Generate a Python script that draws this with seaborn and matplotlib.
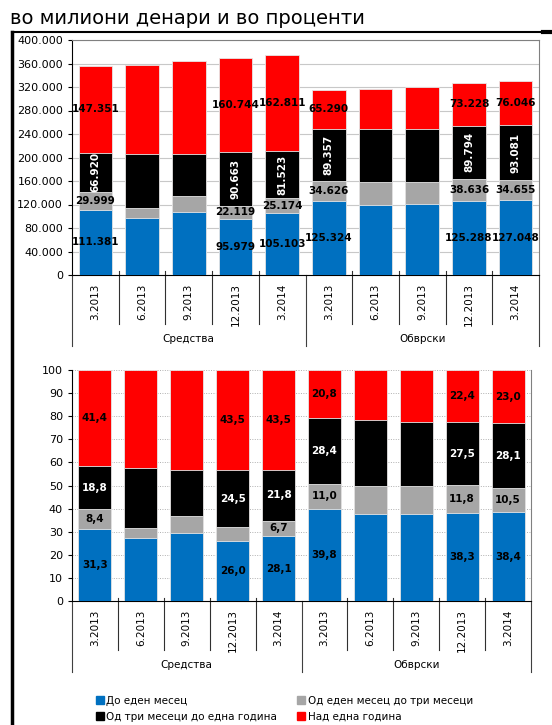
import numpy as np
import pandas as pd
import matplotlib.pyplot as plt
import seaborn as sns
from matplotlib.lines import Line2D

# periods and groups
dates = ['3.2013', '6.2013', '9.2013', '12.2013', '3.2014']
groups = ['Средства', 'Обврски']
series = ['До еден месец', 'Од еден месец до три месеци',
          'Од три месеци до една година', 'Над една година']
colors = ['#0070C0', '#A6A6A6', '#000000', '#FF0000']

# millions of denars (Средства x5, then Обврски x5)
upto_1m = [111381, 97700, 107700, 95979, 105103, 125324, 119100, 120600, 125288, 127048]
m1_3m = [29999, 15800, 26600, 22119, 25174, 34626, 38600, 38100, 38636, 34655]
m3_1y = [66920, 92700, 72000, 90663, 81523, 89357, 90400, 89600, 89794, 93081]
over_1y = [147351, 151800, 157600, 160744, 162811, 65290, 67900, 71700, 73228, 76046]

# shares in percent
pct_upto_1m = [31.3, 27.3, 29.6, 26.0, 28.1, 39.8, 37.7, 37.7, 38.3, 38.4]
pct_1_3m = [8.4, 4.4, 7.3, 6.0, 6.7, 11.0, 12.2, 11.9, 11.8, 10.5]
pct_3m_1y = [18.8, 25.9, 19.8, 24.5, 21.8, 28.4, 28.6, 28.0, 27.5, 28.1]
pct_over_1y = [41.4, 42.4, 43.3, 43.5, 43.5, 20.8, 21.5, 22.4, 22.4, 23.0]

# which bars carry value labels
labelled = [0, 3, 4, 5, 8, 9]

keys = [g + ' ' + d for g in groups for d in dates]

fig = plt.figure(figsize=(5.52, 7.25), dpi=100)
plt.rcParams['font.family'] = ['DejaVu Sans']

ax1 = fig.add_axes([72 / 552, 1 - 275 / 725, 467 / 552, 235 / 725])
ax2 = fig.add_axes([72 / 552, 1 - 601 / 725, 459 / 552, 231 / 725])


def stacked(ax, layers, fmt, rot_black, skip):
    d = pd.DataFrame({'key': keys})
    cum = np.zeros(len(keys))
    bottoms = []
    for i, vals in enumerate(layers):
        bottoms.append(cum.copy())
        cum = cum + np.array(vals, dtype=float)
        d['c%d' % i] = cum
    # draw from the top layer down so each covers the one above's lower part
    for i in range(len(layers) - 1, -1, -1):
        sns.barplot(data=d, x='key', y='c%d' % i, color=colors[i], saturation=1,
                    width=0.72, edgecolor='#e6e6e6', linewidth=0.6, ax=ax, zorder=3)
    for i, vals in enumerate(layers):
        for j in labelled:
            if (i, j) in skip:
                continue
            yc = bottoms[i][j] + vals[j] / 2
            black = colors[i] == '#000000'
            ax.text(j, yc, fmt(vals[j]), ha='center', va='center',
                    fontsize=7.5, fontweight='bold',
                    color='white' if black else 'black',
                    rotation=90 if (black and rot_black) else 0, zorder=5)


def axis_frame(ax, h_px, spine_top):
    ax.set_xlim(-0.5, 9.5)
    ax.set_xlabel('')
    ax.set_ylabel('')
    ax.set_xticks(range(10))
    ax.set_xticklabels(dates * 2, rotation=90, fontsize=7.5)
    ax.tick_params(axis='x', length=0, pad=6)
    ax.tick_params(axis='y', length=3, labelsize=8, direction='out', width=0.8)
    ax.spines['left'].set_color('black')
    ax.spines['bottom'].set_color('black')
    ax.spines['right'].set_color('#808080')
    ax.spines['top'].set_color('#808080')
    ax.spines['top'].set_visible(spine_top)
    tr = ax.get_xaxis_transform()
    sep = 49 / h_px
    grp = 71 / h_px
    for x in [0.5, 1.5, 2.5, 3.5, 5.5, 6.5, 7.5, 8.5]:
        ax.add_line(Line2D([x, x], [0.015, -sep], transform=tr, color='#303030',
                           lw=0.8, clip_on=False))
    for x in [-0.5, 4.5, 9.5]:
        ax.add_line(Line2D([x, x], [0, -grp], transform=tr, color='#404040',
                           lw=0.8, clip_on=False))
    for x, g in zip([2, 7], groups):
        ax.text(x, -64 / h_px, g, transform=tr, ha='center', va='center', fontsize=7.5)


stacked(ax1, [upto_1m, m1_3m, m3_1y, over_1y],
        lambda v: f'{v / 1000:.3f}', True, set())
ax1.set_ylim(0, 400000)
ax1.set_yticks(np.arange(0, 400001, 40000))
ax1.set_yticklabels([f'{v:,.0f}'.replace(',', '.') for v in np.arange(0, 400001, 40000)])
ax1.grid(axis='y', color='#c8c8c8', lw=0.8, zorder=0)
ax1.set_axisbelow(True)
axis_frame(ax1, 235, True)

stacked(ax2, [pct_upto_1m, pct_1_3m, pct_3m_1y, pct_over_1y],
        lambda v: f'{v:.1f}'.replace('.', ','), False, {(1, 3)})
ax2.set_ylim(0, 100)
ax2.set_yticks(np.arange(0, 101, 10))
ax2.grid(axis='y', color='#b0b0b0', lw=0.7, ls=(0, (1, 1.5)), zorder=0)
ax2.set_axisbelow(True)
axis_frame(ax2, 231, False)

# legend
handles = [Line2D([], [], marker='s', ls='', color=c, markersize=6) for c in colors]
order = [0, 2, 1, 3]
fig.legend([handles[i] for i in order], [series[i] for i in order],
           loc='center left', bbox_to_anchor=(96 / 552, 1 - 709 / 725), ncol=2,
           frameon=False, borderaxespad=0, borderpad=0,
           fontsize=7.5, handlelength=0.8, handletextpad=0.2, columnspacing=1.9,
           labelspacing=0.6)

fig.text(10 / 552, 1 - 18 / 725, 'во милиони денари и во проценти', fontsize=14,
         ha='left', va='center')

# outer frame
fig.add_artist(Line2D([12 / 552, 12 / 552], [0, 1 - 32 / 725], color='black',
                      lw=2.5, transform=fig.transFigure))
fig.add_artist(Line2D([12 / 552, 543 / 552], [1 - 32 / 725, 1 - 32 / 725],
                      color='black', lw=1.5, transform=fig.transFigure))
fig.add_artist(Line2D([543 / 552, 1], [1 - 32 / 725, 1 - 32 / 725],
                      color='black', lw=3, transform=fig.transFigure))

fig.savefig('out.png', dpi=100)
